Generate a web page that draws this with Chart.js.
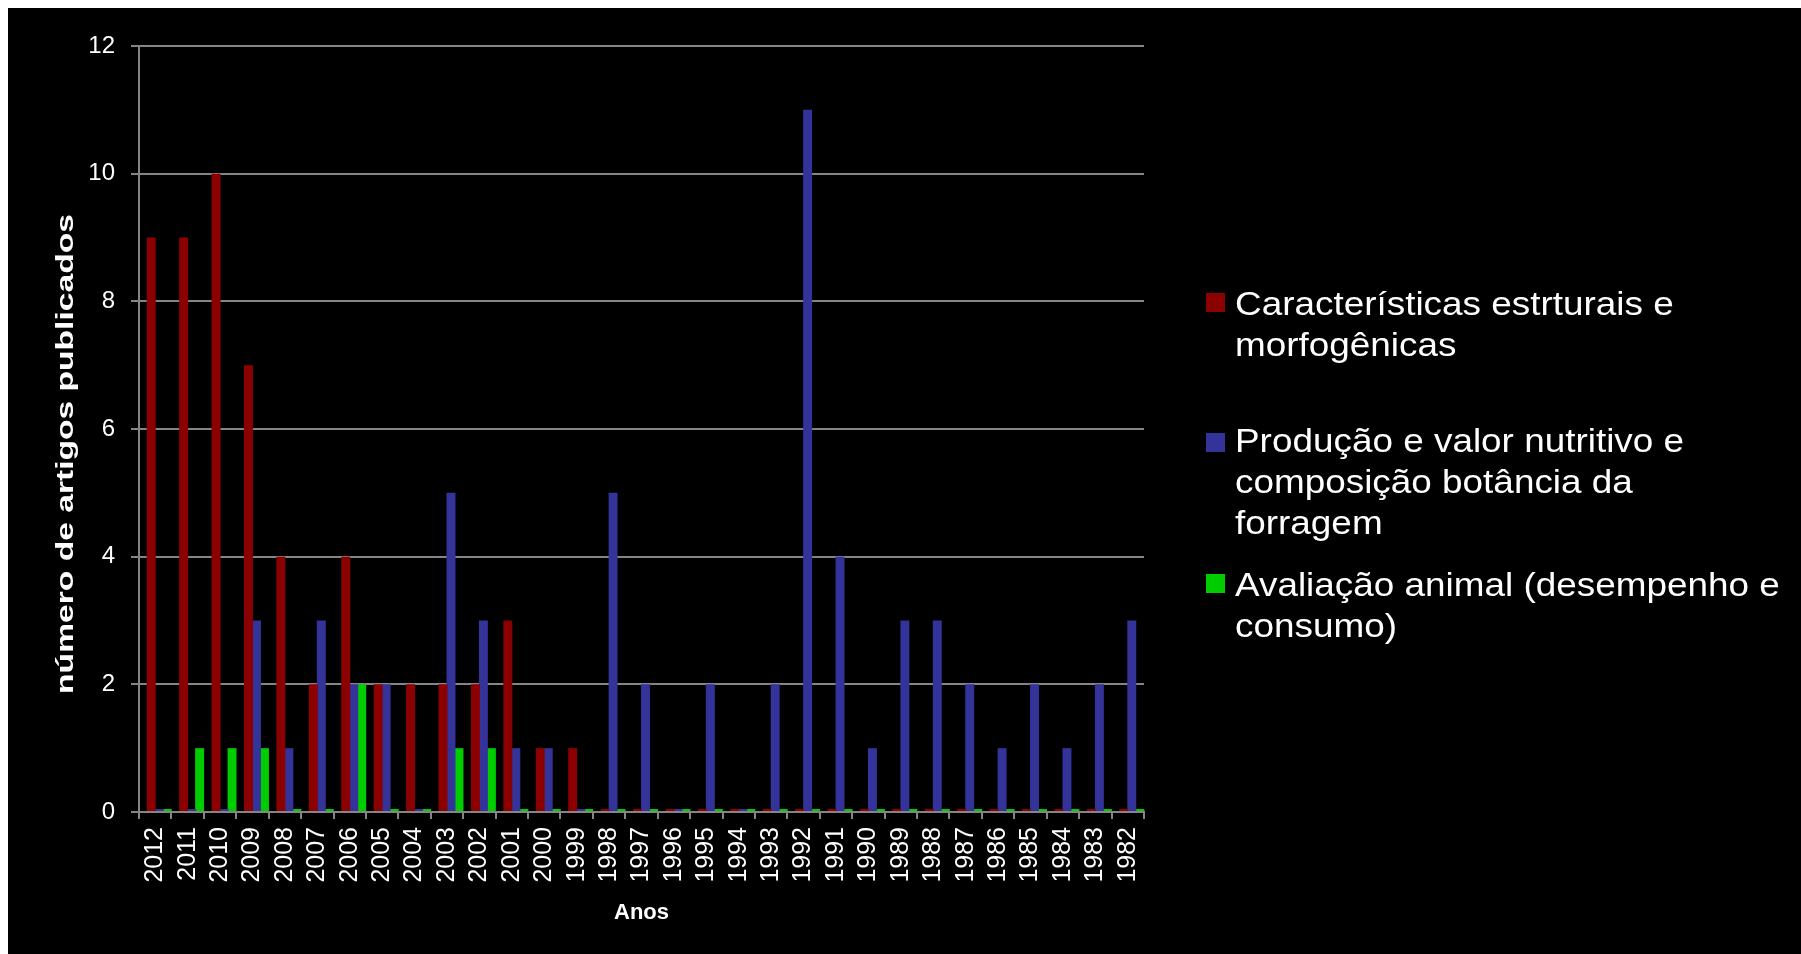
<!DOCTYPE html>
<html lang="pt-br">
<head>
    <meta charset="UTF-8">
    <title>Artigos publicados por ano</title>
    <script src="https://cdn.jsdelivr.net/npm/chart.js"></script>
    <style>
        html, body { margin: 0; padding: 0; background: #ffffff; overflow: hidden; }
        #moldura { position: absolute; left: 8px; top: 8px; width: 1793px; height: 946px; background: #000000; }
    </style>
</head>
<body>
    <div id="moldura"><canvas id="grafico" width="1793" height="946"></canvas></div>

    <script>
        // Dados
        const anos = ["2012", "2011", "2010", "2009", "2008", "2007", "2006", "2005", "2004", "2003",
                      "2002", "2001", "2000", "1999", "1998", "1997", "1996", "1995", "1994", "1993",
                      "1992", "1991", "1990", "1989", "1988", "1987", "1986", "1985", "1984", "1983", "1982"];
        const estruturais = [9, 9, 10, 7, 4, 2, 4, 2, 2, 2, 2, 3, 1, 1, 0, 0, 0, 0, 0, 0, 0, 0, 0, 0, 0, 0, 0, 0, 0, 0, 0];
        const producao    = [0, 0, 0, 3, 1, 3, 2, 2, 0, 5, 3, 1, 1, 0, 5, 2, 0, 2, 0, 2, 11, 4, 1, 3, 3, 2, 1, 2, 1, 2, 3];
        const avaliacao   = [0, 1, 1, 1, 0, 0, 2, 0, 0, 1, 1, 0, 0, 0, 0, 0, 0, 0, 0, 0, 0, 0, 0, 0, 0, 0, 0, 0, 0, 0, 0];
        const passoY = 2;
        const maxY = 12;

        const nomes = [
            ["Características estrturais e", "morfogênicas"],
            ["Produção e valor nutritivo e", "composição botância da", "forragem"],
            ["Avaliação animal (desempenho e", "consumo)"]
        ];
        const cores = ["#8b0000", "#333399", "#00cc00"];

        const fonte = '"Liberation Sans", Arial, sans-serif';
        const cinza = "#858585";

        // Posições da legenda (coordenadas do canvas)
        const legendaQuadY = [285, 425, 566];
        const legendaLinhasY = [[307, 348], [444, 485, 526], [588, 629]];

        // Plugin para título do eixo Y, legenda e deslocamento 3D das barras
        const textoExtra = {
            id: "textoExtra",
            beforeDatasetsDraw(chart) {
                chart.ctx.save();
                chart.ctx.translate(4, 0);
            },
            afterDatasetsDraw(chart) {
                chart.ctx.restore();
            },
            afterDraw(chart) {
                const ctx = chart.ctx;

                // título do eixo Y (fonte estreita e alongada como no original)
                ctx.save();
                ctx.translate(58, 446);
                ctx.rotate(-Math.PI / 2);
                ctx.scale(1.4, 1);
                ctx.font = "bold 24px " + fonte;
                ctx.fillStyle = "#ffffff";
                ctx.textAlign = "center";
                ctx.textBaseline = "middle";
                ctx.fillText("número de artigos publicados", 0, 0);
                ctx.restore();

                // legenda
                chart.data.datasets.forEach((ds, i) => {
                    ctx.fillStyle = ds.backgroundColor;
                    ctx.fillRect(1198, legendaQuadY[i], 19, 19);
                    nomes[i].forEach((linha, j) => {
                        ctx.save();
                        ctx.translate(1227, legendaLinhasY[i][j]);
                        ctx.scale(1.085, 1);
                        ctx.font = "34px " + fonte;
                        ctx.fillStyle = "#ffffff";
                        ctx.textAlign = "left";
                        ctx.textBaseline = "alphabetic";
                        ctx.fillText(linha, 0, 0);
                        ctx.restore();
                    });
                });
            }
        };

        const ctx = document.getElementById("grafico").getContext("2d");

        new Chart(ctx, {
            type: "bar",
            data: {
                labels: anos,
                datasets: [
                    { label: nomes[0].join(" "), data: estruturais, backgroundColor: cores[0] },
                    { label: nomes[1].join(" "), data: producao, backgroundColor: cores[1] },
                    { label: nomes[2].join(" "), data: avaliacao, backgroundColor: cores[2] }
                ]
            },
            options: {
                responsive: false,
                animation: false,
                devicePixelRatio: 1,
                categoryPercentage: 0.74,
                barPercentage: 1.12,
                minBarLength: 3,
                layout: { padding: { top: 38, right: 657, bottom: 0, left: 0 } },
                plugins: {
                    legend: { display: false },
                    tooltip: { enabled: false }
                },
                scales: {
                    x: {
                        grid: { display: true, drawOnChartArea: false, drawTicks: true, tickLength: 7, color: cinza, lineWidth: 2, offset: true },
                        border: { display: true, color: cinza, width: 2 },
                        ticks: { color: "#ffffff", font: { family: fonte, size: 25 }, minRotation: 90, maxRotation: 90, autoSkip: false, padding: 8 },
                        title: { display: true, text: "Anos", color: "#ffffff", font: { family: fonte, size: 22, weight: "bold" }, padding: { top: 0, bottom: 28 } },
                        afterFit: (s) => { s.height = 142; }
                    },
                    y: {
                        min: 0,
                        max: maxY,
                        ticks: { stepSize: passoY, color: "#ffffff", font: { family: fonte, size: 24 }, padding: 16 },
                        grid: { color: cinza, lineWidth: 2, tickLength: 8 },
                        border: { color: cinza, width: 2 },
                        afterFit: (s) => { s.width = 131; }
                    }
                }
            },
            plugins: [textoExtra]
        });
    </script>
</body>
</html>
